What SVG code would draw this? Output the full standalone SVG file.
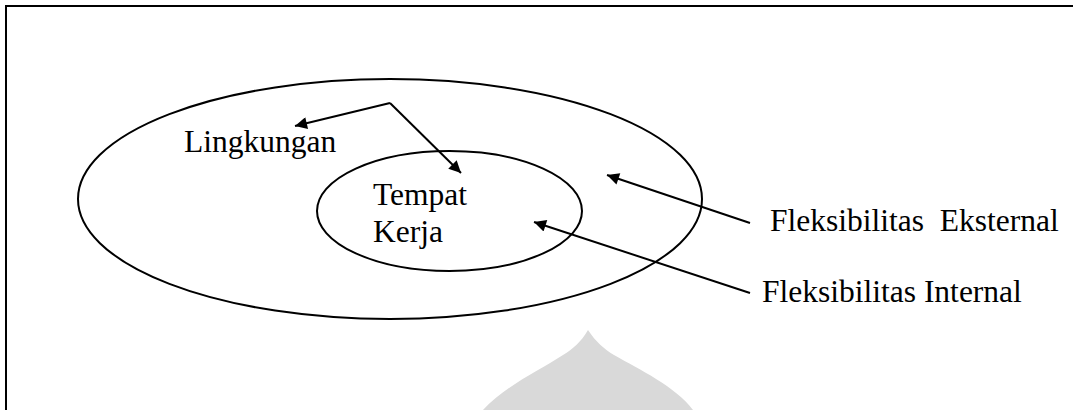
<svg xmlns="http://www.w3.org/2000/svg" width="1073" height="410" viewBox="0 0 1073 410">
<style>
.ln{fill:none;stroke:#000;stroke-width:2}
.t{font-family:"Liberation Serif","Times New Roman",serif;font-size:31.5px;fill:#000}
</style>
<defs>
<marker id="ah" viewBox="0 0 10 10" refX="10" refY="5" markerWidth="16" markerHeight="12" markerUnits="userSpaceOnUse" orient="auto">
<path d="M0,0 L10,5 L0,10 Z" fill="#000"/>
</marker>
</defs>
<rect width="1073" height="410" fill="#fff"/>
<path id="watermark" d="M588,330 C581,342 573,349 563,355 C540,370 505,386 483,410 L693,410 C675,386 640,370 614,355 C604,349 596,342 588,330 Z" fill="#d9d9d9"/>
<path id="frame" class="ln" d="M6,410 V6 H1073"/>
<g id="outer">
<ellipse class="ln" cx="390" cy="199" rx="312" ry="120"/>
<text class="t" x="184" y="152">Lingkungan</text>
</g>
<g id="inner">
<ellipse class="ln" cx="449.5" cy="211" rx="132.5" ry="60"/>
<text class="t" x="373" y="205">Tempat</text>
<text class="t" x="373" y="242">Kerja</text>
</g>
<g id="label-eksternal">
<text class="t" x="770" y="231" xml:space="preserve">Fleksibilitas  Eksternal</text>
</g>
<g id="label-internal">
<text class="t" x="762" y="302">Fleksibilitas Internal</text>
</g>
<g id="connectors">
<path class="ln" d="M390,103 L295,126" marker-end="url(#ah)"/>
<path class="ln" d="M390,103 L461,173" marker-end="url(#ah)"/>
<path class="ln" d="M750,223 L607,175" marker-end="url(#ah)"/>
<path class="ln" d="M750,293 L534,222" marker-end="url(#ah)"/>
</g>
</svg>
